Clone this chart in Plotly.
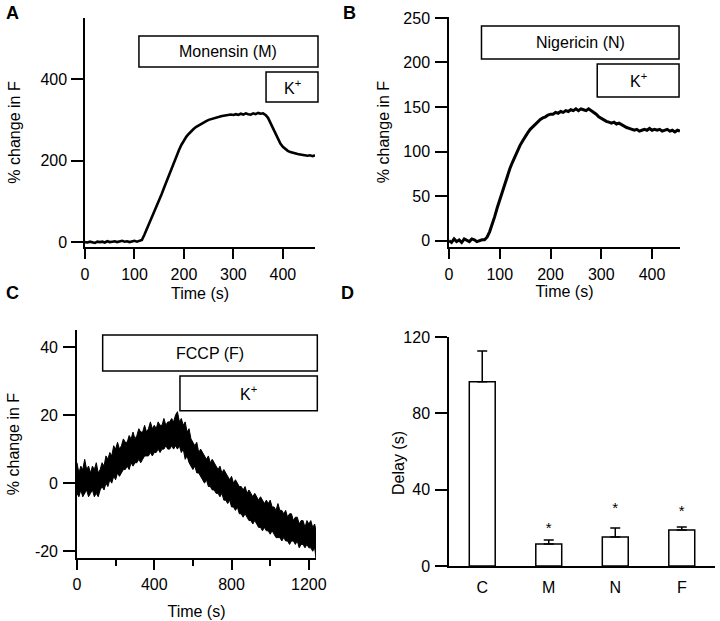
import plotly.graph_objects as go

# ---- panel A: monensin ----
a_time = list(range(0, 470, 5))
a_val = [0, -1, 1, 0, -2, 1, 0, 1, -1, 2, 0, 1, 2, 0, 1, 3, 1, 2, 0, 2, 3, 1, 3,
         5, 18, 32, 45, 60, 74, 88, 103, 118, 134, 150, 165, 182, 198, 212, 226, 239,
         250, 259, 266, 273, 278, 283, 287, 290, 294, 297, 300, 302, 304, 306, 307,
         309, 310, 311, 311, 313, 312, 314, 312, 315, 313, 316, 314, 313, 316, 314,
         317, 315, 316, 312, 305, 293, 280, 267, 253, 242, 234, 228, 224, 221, 219,
         217, 216, 215, 214, 213, 212, 213, 211, 213]
a_drug_on = 109
a_k_on = 366

# ---- panel B: nigericin ----
b_time = list(range(0, 460, 5))
b_val = [0, -2, 2, -1, 1, -2, 2, 0, -1, 2, 1, -1, 0, 1,
         1, 4, 10, 18, 27, 37, 46, 56, 65, 73, 81, 88, 95, 102, 107, 112, 117, 121,
         125, 128, 131, 134, 136, 138, 139, 141, 142, 142, 144, 143, 145, 144, 146,
         145, 147, 146, 148, 146, 148, 147, 146, 148, 146, 145, 142, 139, 137, 135,
         134, 133, 132, 133, 131, 132, 130, 128, 127, 126, 125, 124, 125, 123, 124,
         125, 124, 126, 124, 125, 124, 125, 123, 124, 125, 123, 124, 122, 124, 123]
b_drug_on = 64
b_k_on = 292

# ---- panel C: FCCP, noisy trace drawn as its upper / lower edge ----
c_time = list(range(0, 1240, 10)) + [1237]
c_upper = [6, 3, 5, 4, 7, 4, 5, 3, 5, 4,
           6, 3, 4, 6, 5, 8, 7, 9, 8, 11,
           10, 12, 10, 11, 13, 12, 12, 14, 13, 15,
           13, 14, 16, 15, 15, 17, 15, 16, 18, 16,
           17, 16, 18, 17, 17, 19, 17, 18, 18, 19,
           18, 20, 21, 18, 19, 17, 18, 15, 16, 13,
           12, 11, 12, 9, 10, 9, 8, 7, 8, 6,
           7, 6, 5, 4, 5, 3, 4, 3, 2, 1,
           2, 0, 1, 0, -1, -1, -2, -1, -3, -2,
           -3, -4, -3, -4, -5, -4, -5, -6, -5, -6,
           -5, -7, -7, -8, -6, -8, -8, -9, -8, -10,
           -9, -9, -11, -10, -10, -12, -11, -11, -13, -11,
           -12, -11, -13, -12, -14]
c_lower = [-3, -4, -2, -4, -3, -2, -4, -3, -2, -4,
           -3, -4, -2, -1, -2, 0, -1, 1, 0, 2,
           1, 3, 2, 3, 4, 4, 5, 4, 6, 5,
           6, 6, 7, 6, 7, 8, 8, 8, 9, 8,
           9, 9, 10, 9, 10, 10, 11, 10, 10, 11,
           10, 11, 10, 11, 9, 10, 7, 8, 6, 5,
           4, 5, 3, 3, 2, 1, 0, 1, -1, -1,
           -2, -2, -3, -3, -4, -3, -5, -5, -6, -5,
           -7, -7, -8, -7, -9, -9, -10, -9, -10, -11,
           -11, -12, -11, -12, -13, -13, -14, -13, -14, -14,
           -15, -14, -15, -16, -16, -16, -17, -16, -17, -17,
           -18, -17, -17, -18, -17, -19, -18, -18, -19, -18,
           -19, -19, -20, -19, -22]
c_drug_on = 133
c_k_on = 533

# ---- panel D: delay ----
d_cats = ["C", "M", "N", "F"]
d_delay = [96.5, 11.5, 15.2, 18.9]
d_err = [16.2, 2.1, 4.7, 1.5]
star_cats = ["M", "N", "F"]
star_y = [19.4, 29.9, 28.3]

FONT = "Liberation Sans, Arial, sans-serif"

fig = go.Figure()

fig.add_trace(go.Scatter(x=a_time, y=a_val, mode="lines", line=dict(color="black", width=2.6),
                         xaxis="x", yaxis="y", showlegend=False))
fig.add_trace(go.Scatter(x=b_time, y=b_val, mode="lines", line=dict(color="black", width=3),
                         xaxis="x2", yaxis="y2", showlegend=False))
fig.add_trace(go.Scatter(x=c_time + c_time[::-1], y=c_upper + c_lower[::-1], mode="lines",
                         fill="toself", fillcolor="black", line=dict(color="black", width=1),
                         xaxis="x3", yaxis="y3", showlegend=False))
fig.add_trace(go.Bar(x=d_cats, y=d_delay, width=0.39,
                     marker=dict(color="white", line=dict(color="black", width=1.5)),
                     error_y=dict(type="data", array=d_err, arrayminus=[0, 0, 0, 0],
                                  color="black", thickness=1.5, width=5),
                     xaxis="x4", yaxis="y4", showlegend=False))
fig.add_trace(go.Scatter(x=star_cats, y=star_y, mode="text", text=["*"] * len(star_cats),
                         textfont=dict(size=15, color="black", family=FONT),
                         xaxis="x4", yaxis="y4", showlegend=False))

ax = dict(showgrid=False, zeroline=False, showline=True, linecolor="black", linewidth=1.5,
          ticks="outside", tickcolor="black", tickwidth=1.5, automargin=False,
          tickfont=dict(size=16, color="black", family=FONT))
title_font = dict(size=16, color="black", family=FONT)

fig.update_layout(
    width=720, height=621,
    margin=dict(l=0, r=0, t=0, b=0),
    paper_bgcolor="white", plot_bgcolor="white",
    font=dict(family=FONT, color="black"),
    xaxis=dict(ax, domain=[0.1181, 0.4375], range=[0, 465], dtick=100, ticklen=10,
               ticklabelstandoff=2, anchor="y",
               title=dict(text="Time (s)", font=title_font, standoff=6)),
    yaxis=dict(ax, domain=[0.6023, 0.9710], range=[-12, 550], tickvals=[0, 200, 400],
               ticklen=12, ticklabelstandoff=1, anchor="x",
               title=dict(text="% change in F", font=title_font, standoff=16)),
    xaxis2=dict(ax, domain=[0.6236, 0.9444], range=[0, 455], dtick=100, ticklen=10,
                ticklabelstandoff=2, anchor="y2",
                title=dict(text="Time (s)", font=title_font, standoff=3)),
    yaxis2=dict(ax, domain=[0.6023, 0.9726], range=[-7, 251], dtick=50,
                ticklen=12, ticklabelstandoff=2, anchor="x2",
                title=dict(text="% change in F", font=title_font, standoff=10)),
    xaxis3=dict(ax, domain=[0.1069, 0.4389], range=[0, 1237], tickvals=[0, 400, 800, 1200],
                ticklen=10, ticklabelstandoff=1, anchor="y3",
                minor=dict(tickvals=[200, 600, 1000], ticklen=6, ticks="outside",
                           tickcolor="black", tickwidth=1.5),
                title=dict(text="Time (s)", font=title_font, standoff=14)),
    yaxis3=dict(ax, domain=[0.1014, 0.4686], range=[-22, 45], tickvals=[-20, 0, 20, 40],
                ticktext=["-20", "0", "20", "40"],
                ticklen=12, ticklabelstandoff=2, anchor="x3",
                title=dict(text="% change in F", font=title_font, standoff=11)),
    xaxis4=dict(ax, domain=[0.6236, 0.9931], range=[-0.5, 3.5], ticks="",
                ticklabelstandoff=6, anchor="y4"),
    yaxis4=dict(ax, domain=[0.0886, 0.4573], range=[0, 120], tickvals=[0, 40, 80, 120],
                ticklen=12, ticklabelstandoff=2, anchor="x4"),
)

# drug application bars (left edge at the application time)
boxes = [
    ("x", "y", 465, a_drug_on, 1.013, 0.921, 0.786, "Monensin (M)"),
    ("x", "y", 465, a_k_on, 1.013, 0.764, 0.633, "K<sup>+</sup>"),
    ("x2", "y2", 455, b_drug_on, 0.996, 0.961, 0.817, "Nigericin (N)"),
    ("x2", "y2", 455, b_k_on, 0.996, 0.796, 0.652, "K<sup>+</sup>"),
    ("x3", "y3", 1237, c_drug_on, 1.0055, 0.978, 0.820, "FCCP (F)"),
    ("x3", "y3", 1237, c_k_on, 1.0055, 0.798, 0.646, "K<sup>+</sup>"),
]
for xr, yr, xmax, t_on, x1, y1, y0, label in boxes:
    x0 = t_on / xmax
    fig.add_shape(type="rect", xref=xr + " domain", yref=yr + " domain",
                  x0=x0, x1=x1, y0=y0, y1=y1, line=dict(color="black", width=1.5),
                  fillcolor="white", layer="above")
    fig.add_annotation(xref=xr + " domain", yref=yr + " domain", x=(x0 + x1) / 2,
                       y=(y0 + y1) / 2, xanchor="center", yanchor="middle",
                       text=label, showarrow=False,
                       font=dict(size=16, color="black", family=FONT))

# D y title sits close to the tick labels
fig.add_annotation(xref="paper", yref="paper", x=398 / 720, y=1 - 463 / 621, text="Delay (s)",
                   xanchor="center", yanchor="middle",
                   textangle=-90, showarrow=False, font=title_font)

for lab, px, py in [("A", 12, 13), ("B", 349, 13), ("C", 12, 293), ("D", 347, 293)]:
    fig.add_annotation(xref="paper", yref="paper", x=px / 720, y=1 - py / 621, text="<b>%s</b>" % lab,
                       xanchor="center", yanchor="middle",
                       showarrow=False, font=dict(size=18, color="black", family=FONT))

# page body has a default 8px margin; drop it so the figure sits at the window origin
fig.write_html("out.html", config={"displayModeBar": False},
               post_script="document.body.style.margin='0';")
